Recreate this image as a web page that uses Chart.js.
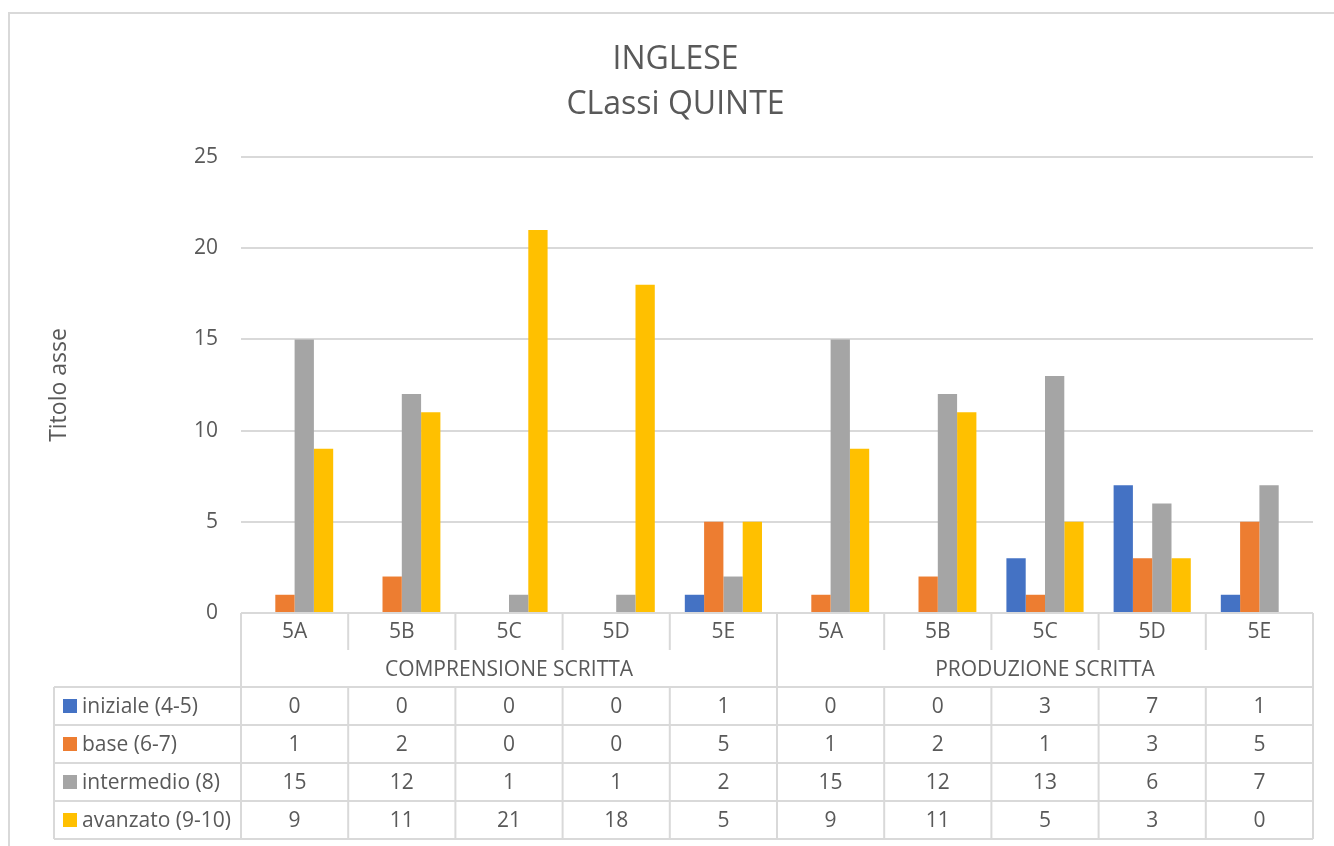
<!DOCTYPE html>
<html>
<head>
<meta charset="utf-8">
<script src="https://cdn.jsdelivr.net/npm/chart.js@4"></script>
<style>
  html, body { margin: 0; padding: 0; background: #fff; }
  #wrap { width: 1334px; height: 846px; position: relative; }
</style>
</head>
<body>
<div id="wrap"><canvas id="mycanvas" width="1334" height="846"></canvas></div>
<script>
var groups = ["COMPRENSIONE SCRITTA", "PRODUZIONE SCRITTA"];
var classes = ["5A", "5B", "5C", "5D", "5E", "5A", "5B", "5C", "5D", "5E"];
var iniziale = [0, 0, 0, 0, 1, 0, 0, 3, 7, 1];
var base = [1, 2, 0, 0, 5, 1, 2, 1, 3, 5];
var intermedio = [15, 12, 1, 1, 2, 15, 12, 13, 6, 7];
var avanzato = [9, 11, 21, 18, 5, 9, 11, 5, 3, 0];
var yTicks = [0, 5, 10, 15, 20, 25];

var FONT = "'Open Sans', sans-serif";
var TXT = "#595959";
var LINE = "#d9d9d9";

// data table under the plot, columns follow the x scale
var tablePlugin = {
  id: "dataTable",
  afterDraw: function (chart) {
    var ctx = chart.ctx;
    var x = chart.scales.x;
    var area = chart.chartArea;
    var n = classes.length;
    var cw = area.width / n;
    var top = area.bottom;
    var r1 = top + 37;            // end of class row
    var r2 = top + 74;            // end of group row
    var legendLeft = 54;
    var ds = chart.data.datasets;
    var rowH = 38;
    var bottom = r2 + ds.length * rowH;

    ctx.save();
    ctx.strokeStyle = LINE;
    ctx.lineWidth = 2;
    ctx.beginPath();
    ctx.moveTo(area.left, top); ctx.lineTo(area.right, top);
    for (var r = 0; r <= ds.length; r++) {
      var yy = r2 + r * rowH;
      ctx.moveTo(legendLeft, yy); ctx.lineTo(area.right, yy);
    }
    ctx.moveTo(area.left, top); ctx.lineTo(area.left, bottom);
    ctx.moveTo(legendLeft, r2); ctx.lineTo(legendLeft, bottom);
    for (var i = 1; i <= n; i++) {
      var vx = area.left + i * cw;
      if (i === n / 2 || i === n) {
        ctx.moveTo(vx, top); ctx.lineTo(vx, bottom);
      } else {
        ctx.moveTo(vx, top); ctx.lineTo(vx, r1);
        ctx.moveTo(vx, r2); ctx.lineTo(vx, bottom);
      }
    }
    ctx.stroke();

    ctx.fillStyle = TXT;
    ctx.font = "21px " + FONT;
    ctx.textAlign = "center";
    ctx.textBaseline = "middle";
    for (var c = 0; c < n; c++) {
      var cx = x.getPixelForValue(c);
      ctx.fillText(classes[c], cx, top + 19);
      for (var d = 0; d < ds.length; d++) {
        ctx.fillText(String(ds[d].data[c]), cx, r2 + d * rowH + rowH / 2 + 1);
      }
    }
    var half = area.width / 2;
    for (var g = 0; g < groups.length; g++) {
      ctx.fillText(groups[g], area.left + half * g + half / 2, top + 57);
    }
    ctx.textAlign = "left";
    for (var k = 0; k < ds.length; k++) {
      var cy = r2 + k * rowH + rowH / 2;
      ctx.fillStyle = ds[k].backgroundColor;
      ctx.fillRect(63, cy - 7, 14, 14);
      ctx.fillStyle = TXT;
      ctx.fillText(ds[k].label, 82, cy + 1);
    }
    ctx.restore();
  }
};

var borderPlugin = {
  id: "outerBorder",
  beforeDraw: function (chart) {
    var ctx = chart.ctx;
    ctx.save();
    ctx.fillStyle = "#fff";
    ctx.fillRect(0, 0, chart.width, chart.height);
    ctx.strokeStyle = LINE;
    ctx.lineWidth = 2;
    ctx.strokeRect(9, 13, 1340, 850);
    ctx.restore();
  }
};

var ctx = document.getElementById("mycanvas").getContext("2d");
var myChart = new Chart(ctx, {
  type: "bar",
  data: {
    labels: classes,
    datasets: [
      { label: "iniziale (4-5)", data: iniziale, backgroundColor: "#4472C4" },
      { label: "base (6-7)", data: base, backgroundColor: "#ED7D31" },
      { label: "intermedio (8)", data: intermedio, backgroundColor: "#A5A5A5" },
      { label: "avanzato (9-10)", data: avanzato, backgroundColor: "#FFC000" }
    ]
  },
  options: {
    responsive: false,
    animation: false,
    devicePixelRatio: 1,
    layout: { padding: { left: 38, right: 21, top: 0, bottom: 0 } },
    datasets: { bar: { categoryPercentage: 0.72, barPercentage: 1 } },
    plugins: {
      legend: { display: false },
      tooltip: { enabled: false },
      title: {
        display: true,
        text: ["INGLESE", "CLassi QUINTE"],
        color: TXT,
        font: { family: FONT, size: 32, weight: "normal", lineHeight: 45 / 32 },
        padding: { top: 37, bottom: 30 }
      }
    },
    scales: {
      x: {
        grid: { display: false },
        border: { display: false },
        ticks: { display: false },
        afterFit: function (s) { s.height = 233; }
      },
      y: {
        min: 0,
        max: 25,
        afterBuildTicks: function (s) { s.ticks = yTicks.map(function (v) { return { value: v }; }); },
        grid: { color: LINE, lineWidth: 2, drawTicks: false },
        border: { display: false },
        ticks: { color: TXT, padding: 23, font: { family: FONT, size: 21 } },
        title: {
          display: true,
          text: "Titolo asse",
          color: TXT,
          font: { family: FONT, size: 23 },
          padding: { top: 8, bottom: 0 }
        },
        afterFit: function (s) { s.width = 241 - 38; }
      }
    }
  },
  plugins: [borderPlugin, tablePlugin]
});
</script>
</body>
</html>
